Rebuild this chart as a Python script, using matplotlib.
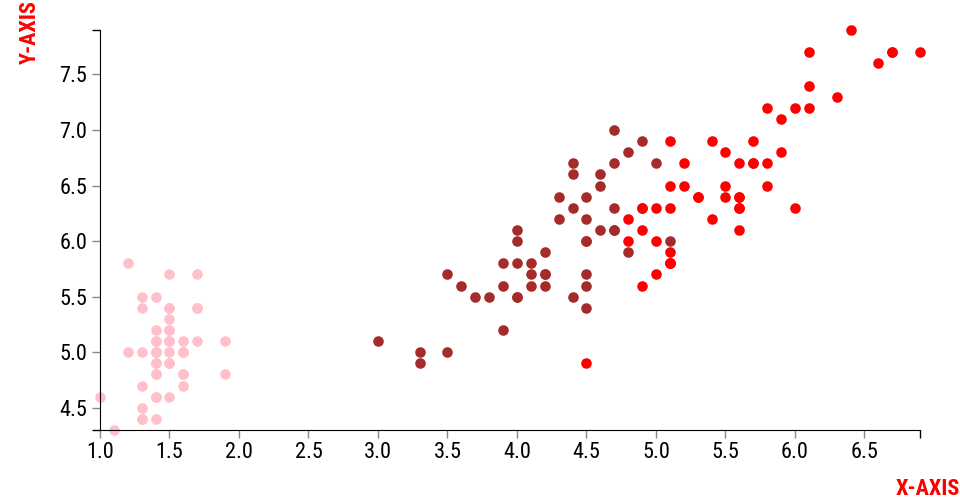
import matplotlib.pyplot as plt
from matplotlib.ticker import FixedLocator

# Iris data: petal length (x) vs sepal length (y)
setosa_petal = [1.4, 1.4, 1.3, 1.5, 1.4, 1.7, 1.4, 1.5, 1.4, 1.5,
                1.5, 1.6, 1.4, 1.1, 1.2, 1.5, 1.3, 1.4, 1.7, 1.5,
                1.7, 1.5, 1.0, 1.7, 1.9, 1.6, 1.6, 1.5, 1.4, 1.6,
                1.6, 1.5, 1.5, 1.4, 1.5, 1.2, 1.3, 1.4, 1.3, 1.5,
                1.3, 1.3, 1.3, 1.6, 1.9, 1.4, 1.6, 1.4, 1.5, 1.4]
setosa_sepal = [5.1, 4.9, 4.7, 4.6, 5.0, 5.4, 4.6, 5.0, 4.4, 4.9,
                5.4, 4.8, 4.8, 4.3, 5.8, 5.7, 5.4, 5.1, 5.7, 5.1,
                5.4, 5.1, 4.6, 5.1, 4.8, 5.0, 5.0, 5.2, 5.2, 4.7,
                4.8, 5.4, 5.2, 5.5, 4.9, 5.0, 5.5, 4.9, 4.4, 5.1,
                5.0, 4.5, 4.4, 5.0, 5.1, 4.8, 5.1, 4.6, 5.3, 5.0]

versicolor_petal = [4.7, 4.5, 4.9, 4.0, 4.6, 4.5, 4.7, 3.3, 4.6, 3.9,
                    3.5, 4.2, 4.0, 4.7, 3.6, 4.4, 4.5, 4.1, 4.5, 3.9,
                    4.8, 4.0, 4.9, 4.7, 4.3, 4.4, 4.8, 5.0, 4.5, 3.5,
                    3.8, 3.7, 3.9, 5.1, 4.5, 4.5, 4.7, 4.4, 4.1, 4.0,
                    4.4, 4.6, 4.0, 3.3, 4.2, 4.2, 4.2, 4.3, 3.0, 4.1]
versicolor_sepal = [7.0, 6.4, 6.9, 5.5, 6.5, 5.7, 6.3, 4.9, 6.6, 5.2,
                    5.0, 5.9, 6.0, 6.1, 5.6, 6.7, 5.6, 5.8, 6.2, 5.6,
                    5.9, 6.1, 6.3, 6.1, 6.4, 6.6, 6.8, 6.7, 6.0, 5.7,
                    5.5, 5.5, 5.8, 6.0, 5.4, 6.0, 6.7, 6.3, 5.6, 5.5,
                    5.5, 6.1, 5.8, 5.0, 5.6, 5.7, 5.7, 6.2, 5.1, 5.7]

virginica_petal = [6.0, 5.1, 5.9, 5.6, 5.8, 6.6, 4.5, 6.3, 5.8, 6.1,
                   5.1, 5.3, 5.5, 5.0, 5.1, 5.3, 5.5, 6.7, 6.9, 5.0,
                   5.7, 4.9, 6.7, 4.9, 5.7, 6.0, 4.8, 4.9, 5.6, 5.8,
                   6.1, 6.4, 5.6, 5.1, 5.6, 6.1, 5.6, 5.5, 4.8, 5.4,
                   5.6, 5.1, 5.1, 5.9, 5.7, 5.2, 5.0, 5.2, 5.4, 5.1]
virginica_sepal = [6.3, 5.8, 7.1, 6.3, 6.5, 7.6, 4.9, 7.3, 6.7, 7.2,
                   6.5, 6.4, 6.8, 5.7, 5.8, 6.4, 6.5, 7.7, 7.7, 6.0,
                   6.9, 5.6, 7.7, 6.3, 6.7, 7.2, 6.2, 6.1, 6.4, 7.2,
                   7.4, 7.9, 6.4, 6.3, 6.1, 7.7, 6.3, 6.4, 6.0, 6.9,
                   6.7, 6.9, 5.8, 6.8, 6.7, 6.7, 6.3, 6.5, 6.2, 5.9]

x_ticks = [1.0, 1.5, 2.0, 2.5, 3.0, 3.5, 4.0, 4.5, 5.0, 5.5, 6.0, 6.5]
y_ticks = [4.5, 5.0, 5.5, 6.0, 6.5, 7.0, 7.5]

plt.rcParams['font.family'] = ['Roboto Condensed', 'Liberation Sans Narrow', 'DejaVu Sans']
plt.rcParams['font.stretch'] = 'condensed'

fig = plt.figure(figsize=(9.6, 5), dpi=100)
ax = fig.add_axes([100 / 960, 70 / 500, 820 / 960, 400 / 500])

ax.scatter(setosa_petal, setosa_sepal, s=58, color='#FFC0CB', linewidths=0, clip_on=False)
ax.scatter(versicolor_petal, versicolor_sepal, s=58, color='#A52A2A', linewidths=0, clip_on=False)
ax.scatter(virginica_petal, virginica_sepal, s=58, color='#FF0000', linewidths=0, clip_on=False)

xmin, xmax = min(setosa_petal), max(virginica_petal)
ymin, ymax = min(setosa_sepal), max(virginica_sepal)
ax.set_xlim(xmin, xmax)
ax.set_ylim(ymin, ymax)

ax.spines['top'].set_visible(False)
ax.spines['right'].set_visible(False)
ax.spines['left'].set_color('black')
ax.spines['bottom'].set_color('black')

ax.set_xticks(x_ticks)
ax.set_xticklabels([f'{v:.1f}' for v in x_ticks])
ax.set_yticks(y_ticks)
ax.set_yticklabels([f'{v:.1f}' for v in y_ticks])
ax.tick_params(which='major', length=6, width=1, color='#888888', labelsize=16, pad=3)

# outer ticks at the ends of the domain
ax.xaxis.set_minor_locator(FixedLocator([xmin, xmax]))
ax.yaxis.set_minor_locator(FixedLocator([ymin, ymax]))
ax.tick_params(which='minor', length=6, width=1, color='black')

fig.text(30 / 960, 1.0, 'Y-AXIS', rotation=90, ha='center', va='top',
         color='#FF0000', fontsize=16, fontweight='bold')
fig.text(1.0, 0.0, 'X-AXIS', ha='right', va='bottom',
         color='#FF0000', fontsize=16, fontweight='bold')

fig.savefig('out.png', dpi=100)
